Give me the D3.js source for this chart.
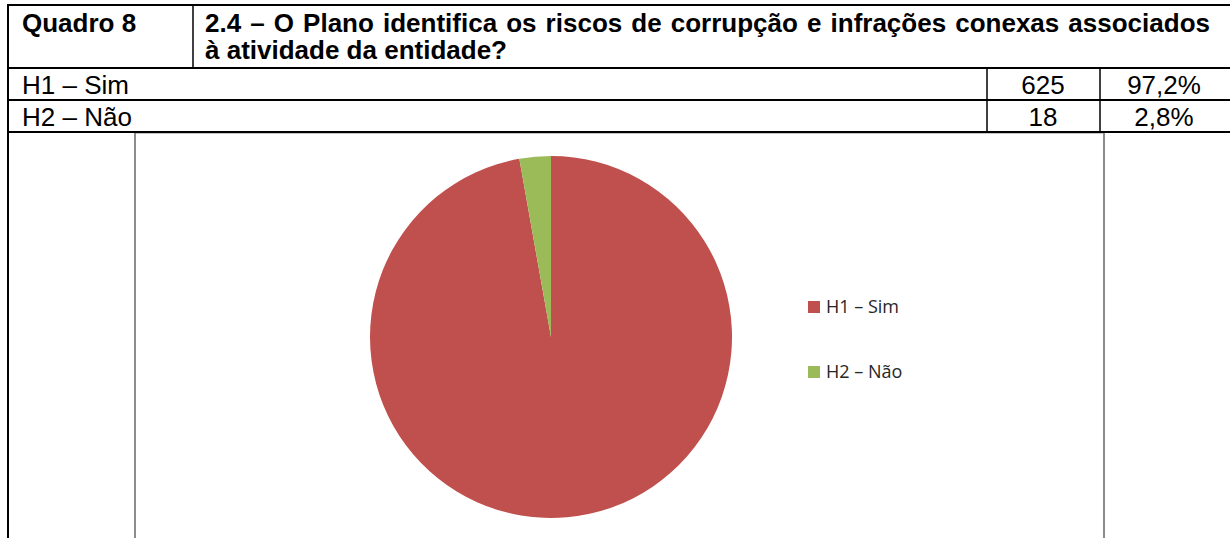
<!DOCTYPE html>
<html><head><meta charset="utf-8">
<script src="https://cdn.jsdelivr.net/npm/d3@7"></script>
<style>html,body{margin:0;padding:0;background:#fff;overflow:hidden}</style>
</head><body>
<svg id="c" width="1230" height="538"></svg>
<script>
const tableLabel = "Quadro 8";
const questionLines = ["2.4 – O Plano identifica os riscos de corrupção e infrações conexas associados", "à atividade da entidade?"];
const categories = ["H1 – Sim", "H2 – Não"];
const counts = [625, 18];
const percentLabels = ["97,2%", "2,8%"];
const colors = ["#C0504D", "#9BBB59"];

const svg = d3.select("#c");
const W = 1230, H = 538;

const xs = {left: 8, div: 193, c1: 987, c2: 1100};
const ys = {top: 5, hdr: 68, r1: 100, r2: 132};
const line = (x1,y1,x2,y2,c,w) => svg.append("line").attr("x1",x1).attr("y1",y1).attr("x2",x2).attr("y2",y2).attr("stroke",c).attr("stroke-width",w);

// chart frame (grey)
line(135, 133, 1104, 133, "#8c8c8c", 1);
line(135, 133, 135, H, "#8c8c8c", 2);
line(1104, 133, 1104, H, "#8c8c8c", 2);

// table lines
[ys.top, ys.hdr, ys.r1, ys.r2].forEach(y => line(xs.left-1, y, W, y, "#000", 2));
line(xs.left, ys.top-1, xs.left, H, "#000", 2);
line(xs.div, ys.top, xs.div, ys.hdr, "#000", 1.5);
line(xs.c1, ys.hdr, xs.c1, ys.r2, "#000", 1.5);
line(xs.c2, ys.hdr, xs.c2, ys.r2, "#000", 1.5);

const font = "'Liberation Sans', Arial, sans-serif";
const fs = 26;
svg.append("text").attr("x", 22).attr("y", 32).attr("font-family", font).attr("font-weight","bold").attr("font-size", fs).attr("fill","#000").text(tableLabel);
questionLines.forEach((t,i) => {
  const el = svg.append("text").attr("x", 205).attr("y", 32 + i*27).attr("font-family", font).attr("font-weight","bold").attr("font-size", fs).attr("fill","#000").text(t);
  if (i === 0) {
    const w = el.node().getComputedTextLength();
    const spaces = (t.match(/ /g)||[]).length;
    const target = 1210 - 205;
    if (w < target) el.attr("word-spacing", (target - w)/spaces);
    else el.attr("textLength", target).attr("lengthAdjust", "spacingAndGlyphs");
  }
});

const rowY = [ys.hdr, ys.r1];
categories.forEach((c,i) => {
  const base = rowY[i] + 26;
  svg.append("text").attr("x", 22).attr("y", base).attr("font-family", font).attr("font-size", fs).attr("fill","#000").text(c);
  svg.append("text").attr("x", 1043).attr("y", base).attr("text-anchor","middle").attr("font-family", font).attr("font-size", fs).attr("fill","#000").text(counts[i]);
  svg.append("text").attr("x", 1164).attr("y", base).attr("text-anchor","middle").attr("font-family", font).attr("font-size", fs).attr("fill","#000").text(percentLabels[i]);
});

// pie
const cx = 551, cy = 337, r = 181;
const pie = d3.pie().sort(null).value(d => d)(counts);
const arc = d3.arc().innerRadius(0).outerRadius(r);
const color = d3.scaleOrdinal().domain(categories).range(colors);
svg.append("g").attr("transform", `translate(${cx},${cy})`)
  .selectAll("path").data(pie).join("path")
  .attr("d", arc).attr("fill", (d,i) => color(categories[i]));

// legend
const leg = svg.append("g").attr("transform", "translate(808,300)");
const ly = d3.scalePoint().domain(categories).range([0, 65]);
categories.forEach(c => {
  const g = leg.append("g").attr("transform", `translate(0,${ly(c)})`);
  g.append("rect").attr("x",0).attr("y",1).attr("width",12).attr("height",12).attr("fill", color(c));
  g.append("text").attr("x",18).attr("y",13).attr("font-family","'Open Sans', Lato, sans-serif").attr("font-size",18).attr("fill","#262626").text(c);
});
</script>
</body></html>
